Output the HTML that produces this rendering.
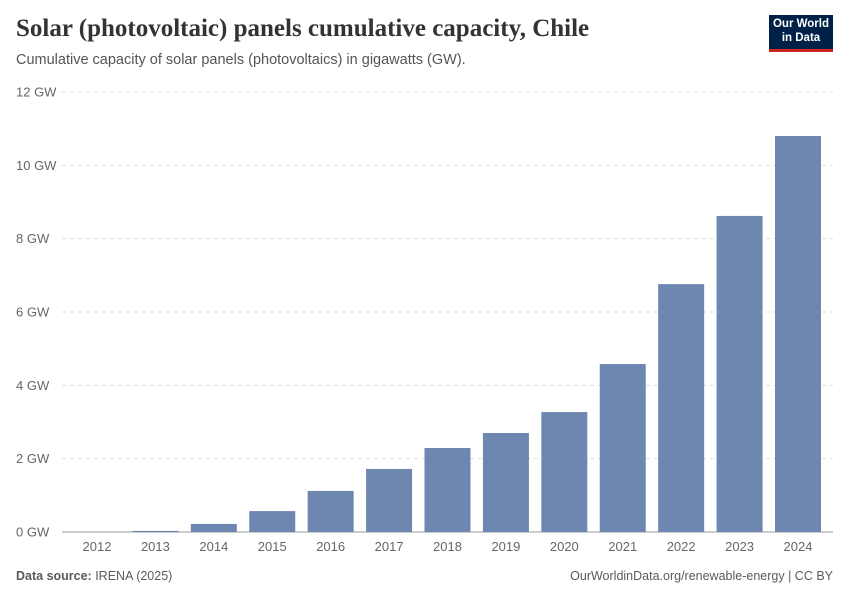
<!DOCTYPE html>
<html><head><meta charset="utf-8">
<style>
body{margin:0;background:#fff;font-family:"Liberation Sans",sans-serif;}
#wrap{position:relative;width:850px;height:600px;overflow:hidden;}
.title{position:absolute;left:16px;top:15px;font-family:"Liberation Serif",serif;font-size:25px;color:#333;font-weight:bold;letter-spacing:0px}
.sub{position:absolute;left:16px;top:52px;font-size:14.5px;color:#555}
.logo{position:absolute;left:769px;top:15px;width:64px;height:37px;background:#002147;border-bottom:3px solid #ce261e;color:#fff;font-size:11.5px;font-weight:bold;line-height:14px;text-align:center;padding-top:2px;box-sizing:border-box}
.foot{position:absolute;top:569px;font-size:12.5px;color:#5b5b5b}
</style></head><body>
<div id="wrap">
<div class="title">Solar (photovoltaic) panels cumulative capacity, Chile</div>
<div class="sub">Cumulative capacity of solar panels (photovoltaics) in gigawatts (GW).</div>
<div class="logo">Our World<br>in Data</div>
<svg id="chart" width="850" height="600" style="position:absolute;left:0;top:0"></svg>
<div class="foot" style="left:16px"><b>Data source:</b> IRENA (2025)</div>
<div class="foot" style="right:17px">OurWorldinData.org/renewable-energy | CC BY</div>
</div>
<script>
const years=["2012","2013","2014","2015","2016","2017","2018","2019","2020","2021","2022","2023","2024"];
const values=[0.003,0.03,0.22,0.57,1.12,1.72,2.29,2.70,3.27,4.58,6.76,8.62,10.8];
const ticks=[0,2,4,6,8,10,12];
const NS="http://www.w3.org/2000/svg";
const svg=document.getElementById('chart');
const y0=532,y1=92,vmax=12;
const yS=v=>y0-(v/vmax)*(y0-y1);
const c0=97,step=(798-97)/12,bw=46;
const xS=i=>c0+i*step;
function mk(t,a){const e=document.createElementNS(NS,t);for(const k in a)e.setAttribute(k,a[k]);svg.appendChild(e);return e;}
ticks.forEach(t=>{
  const y=yS(t);
  const l=mk('line',{x1:62,x2:833,y1:y,y2:y,stroke:t===0?'#999':'#ddd','stroke-dasharray':t===0?'':'4,4'});
  
  
  const tx=mk('text',{x:16,y:y+4.5,'font-size':13,fill:'#666','font-family':'Liberation Sans,sans-serif'});
  tx.textContent=t+' GW';
  
  
});
values.forEach((v,i)=>{
  const x=xS(i);
  const r=mk('rect',{x:x-bw/2,y:yS(v),width:bw,height:y0-yS(v),fill:'#6d87b0'});
  
  
  const tx=mk('text',{x:x,y:551,'font-size':13,fill:'#666','text-anchor':'middle','font-family':'Liberation Sans,sans-serif'});
  tx.textContent=years[i];
  
  
});
</script>
</body></html>
